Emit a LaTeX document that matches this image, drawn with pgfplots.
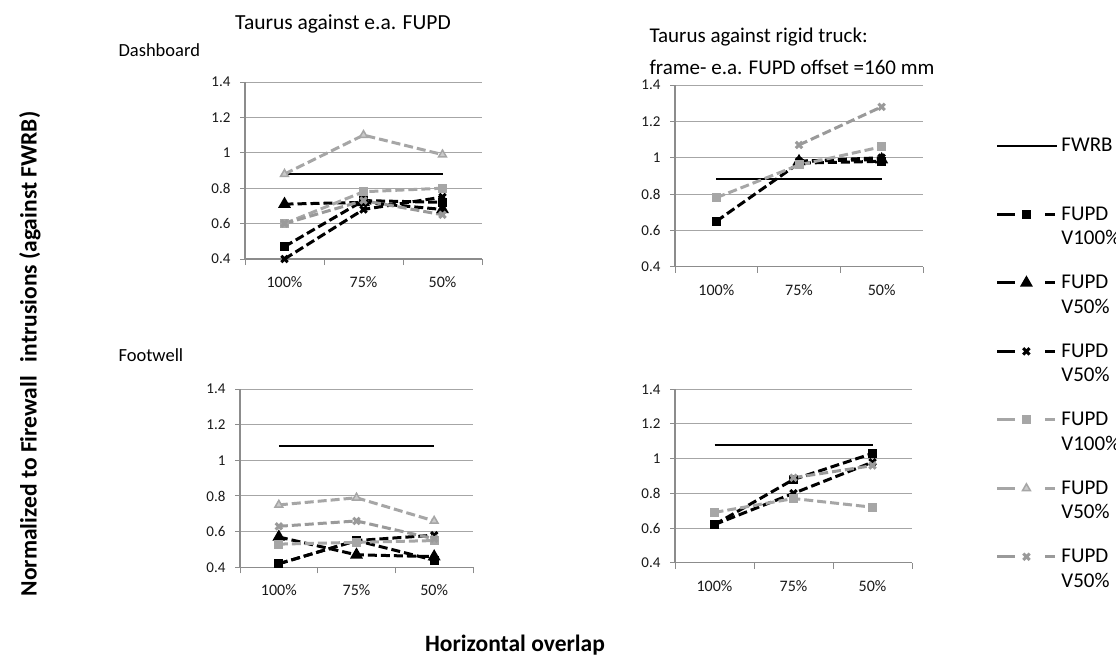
\documentclass[border=0pt]{standalone}
\usepackage{pgfplots}
\pgfplotsset{compat=1.18}
\usepackage{fontspec}
\setmainfont{Carlito}
\definecolor{gr}{HTML}{A6A6A6}
\definecolor{grx}{HTML}{9A9A9A}
\definecolor{axgray}{HTML}{8C8C8C}
\definecolor{gridgray}{HTML}{A6A6A6}
\pgfplotsset{
  panel/.style={
    scale only axis,
    xmin=-0.5, xmax=2.5, ymin=0.4, ymax=1.4,
    xtick={0,1,2}, xticklabels={100\%,75\%,50\%},
    minor xtick={-0.5,0.5,1.5,2.5},
    ytick={0.4,0.6,0.8,1,1.2,1.4},
    yticklabels={0.4,0.6,0.8,1,1.2,1.4},
    ymajorgrids, grid style={gridgray, line width=1pt},
    axis x line*=bottom, axis y line*=left,
    axis line style={-, axgray, line width=1.2pt},
    tick align=outside,
    major tick length=5pt, minor tick length=6pt,
    major x tick style={draw=none},
    minor x tick style={axgray, line width=1pt},
    ytick style={axgray, line width=1pt},
    tick label style={text=black!90},
    xticklabel style={font=\fontsize{16}{19}\selectfont, yshift=-9pt},
    yticklabel style={font=\fontsize{15}{18}\selectfont, xshift=-6pt},
    clip=false,
  },
  fw/.style={black, line width=2pt, mark=none},
  dl/.style={line width=3pt, dash pattern=on 9pt off 4pt},
  bsq/.style={black, dl, mark=square*, mark size=3pt, mark options={solid, fill=black}},
  btr/.style={black, dl, mark=triangle*, mark size=4.5pt, mark options={solid, fill=black}},
  bx/.style={black, dl, mark=x, mark size=4.5pt, mark options={solid, line width=3pt}},
  gsq/.style={gr, dl, mark=square*, mark size=3pt, mark options={solid, fill=gr}},
  gtr/.style={gr, dl, mark=triangle*, mark size=4.5pt, mark options={solid, fill=gr!60, draw=gr, line width=1.5pt}},
  gx/.style={grx, dl, mark=x, mark size=4.5pt, mark options={solid, line width=3pt}},
  dashleg/.style={legend image code/.code={
      \draw[##1, dash pattern=on 18pt off 30pt on 10pt] (0pt,12pt) -- (58pt,12pt);
      \draw[##1, solid] plot[mark repeat=1] coordinates {(29pt,12pt)};
    }},
  solleg/.style={legend image code/.code={
      \draw[##1] (0pt,12pt) -- (60pt,12pt);
    }},
}
\begin{document}
\begin{tikzpicture}
\useasboundingbox (0pt,0pt) rectangle (1116pt,-664pt);
\clip (0pt,0pt) rectangle (1116pt,-664pt);
\fill[white] (0pt,0pt) rectangle (1116pt,-664pt);

% Panel 1: Dashboard, e.a. FUPD
\begin{axis}[panel, at={(245pt,-259pt)}, anchor=south west, width=237pt, height=177pt,
  legend style={draw=none, fill=none, at={(axis description cs:3.155,0.695)}, anchor=north west,
    nodes={inner sep=0pt, align=left, font=\fontsize{21}{24.5}\selectfont},
    row sep=29pt, column sep=3pt},
  legend cell align=left]
\addplot[fw, solleg] coordinates {(0,0.88) (1,0.88) (2,0.88)};
\addlegendentry{FWRB\\\strut}
\addplot[bsq, dashleg] coordinates {(0,0.47) (1,0.73) (2,0.72)};
\addlegendentry{FUPD\\V100\%}
\addplot[btr, dashleg] coordinates {(0,0.71) (1,0.72) (2,0.68)};
\addlegendentry{FUPD\\V50\%}
\addplot[bx, dashleg] coordinates {(0,0.40) (1,0.68) (2,0.75)};
\addlegendentry{FUPD\\V50\%}
\addplot[gsq, dashleg] coordinates {(0,0.60) (1,0.78) (2,0.80)};
\addlegendentry{FUPD\\V100\%}
\addplot[gtr, dashleg] coordinates {(0,0.88) (1,1.10) (2,0.99)};
\addlegendentry{FUPD\\V50\%}
\addplot[gx, dashleg] coordinates {(0,0.60) (1,0.73) (2,0.65)};
\addlegendentry{FUPD\\V50\%}
\end{axis}

% Panel 2: Dashboard, rigid truck
\begin{axis}[panel, at={(675pt,-266.7pt)}, anchor=south west, width=248pt, height=181.7pt]
\addplot[fw] coordinates {(0,0.88) (1,0.88) (2,0.88)};
\addplot[bsq] coordinates {(0,0.65) (1,0.97) (2,0.98)};
\addplot[btr] coordinates {(1,0.98) (2,0.99)};
\addplot[bx] coordinates {(1,0.98) (2,1.00)};
\addplot[gsq] coordinates {(0,0.78) (1,0.96) (2,1.06)};
\addplot[gx] coordinates {(1,1.07) (2,1.28)};
\end{axis}

% Panel 3: Footwell, e.a. FUPD
\begin{axis}[panel, at={(240pt,-567.3pt)}, anchor=south west, width=233pt, height=178.3pt]
\addplot[fw] coordinates {(0,1.08) (1,1.08) (2,1.08)};
\addplot[bsq] coordinates {(0,0.42) (1,0.55) (2,0.44)};
\addplot[btr] coordinates {(0,0.57) (1,0.47) (2,0.46)};
\addplot[bx] coordinates {(0,0.42) (1,0.55) (2,0.58)};
\addplot[gsq] coordinates {(0,0.53) (1,0.54) (2,0.55)};
\addplot[gtr] coordinates {(0,0.75) (1,0.79) (2,0.66)};
\addplot[gx] coordinates {(0,0.63) (1,0.66) (2,0.56)};
\end{axis}

% Panel 4: Footwell, rigid truck
\begin{axis}[panel, at={(675pt,-562.7pt)}, anchor=south west, width=237pt, height=173.4pt]
\addplot[fw] coordinates {(0,1.08) (1,1.08) (2,1.08)};
\addplot[bsq] coordinates {(0,0.62) (1,0.88) (2,1.03)};
\addplot[bx] coordinates {(0,0.62) (1,0.80) (2,0.98)};
\addplot[gsq] coordinates {(0,0.69) (1,0.77) (2,0.72)};
\addplot[gx] coordinates {(1,0.89) (2,0.96)};
\end{axis}

% Texts
\node[font=\fontsize{21.5}{25}\selectfont] at (343pt,-24pt) {Taurus against e.a. FUPD};
\node[font=\fontsize{18.5}{22}\selectfont, anchor=west] at (115pt,-50pt) {Dashboard};
\node[font=\fontsize{21}{25}\selectfont, anchor=west] at (646pt,-37pt) {Taurus against rigid truck:};
\node[font=\fontsize{21}{25}\selectfont, anchor=west] at (646pt,-67pt) {frame- e.a. FUPD offset =160 mm};
\node[font=\fontsize{18.5}{22}\selectfont, anchor=west] at (115pt,-355pt) {Footwell};
\node[font=\bfseries\fontsize{23.5}{26}\selectfont, rotate=90] at (30pt,-354pt) {Normalized to Firewall\hspace{0.6em}intrusions (against FWRB)};
\node[font=\bfseries\fontsize{23.5}{27}\selectfont] at (515pt,-645pt) {Horizontal overlap};
\end{tikzpicture}
\end{document}
